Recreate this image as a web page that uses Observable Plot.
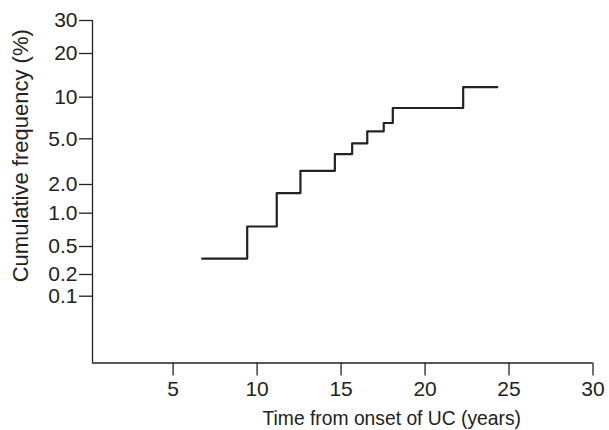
<!DOCTYPE html>
<html><head><meta charset="utf-8">
<script src="https://cdn.jsdelivr.net/npm/d3@7"></script>
<script src="https://cdn.jsdelivr.net/npm/@observablehq/plot@0.6"></script>
<style>body{margin:0;background:#fff} svg{display:block}</style>
</head><body><div id="chart"></div>
<script>
// Step times (years from onset of UC) and cumulative frequency (%) after each step
const stepTimes = [6.73, 9.41, 11.17, 12.58, 14.63, 15.66, 16.56, 17.54, 18.08, 22.27, 24.30];
const cumFreq   = [0.37, 0.8, 1.7, 2.9, 4.0, 4.7, 5.9, 6.9, 8.7, 12.3, 12.3];
const xTicks = [5, 10, 15, 20, 25, 30];
const yTicks = [0.1, 0.2, 0.5, 1, 2, 5, 10, 20, 30];
const yTickLabels = ["0.1", "0.2", "0.5", "1.0", "2.0", "5.0", "10", "20", "30"];
const xLabel = "Time from onset of UC (years)";
const yLabel = "Cumulative frequency (%)";

// probability-paper style axis: piecewise mapping of % onto a linear position
const yMin = 0.01;
const prob = d3.scaleLinear()
  .domain([yMin, ...yTicks])
  .range([0, 66.8, 88.5, 116.5, 149.8, 178.5, 224.2, 265.8, 309.5, 342.5]);

const data = stepTimes.map((t, i) => ({t, f: prob(cumFreq[i])}));
const tickData = yTicks.map((v, i) => ({pos: prob(v), label: yTickLabels[i]}));
const ink = "#222";
const chart = Plot.plot({
  width: 609, height: 430,
  marginLeft: 92, marginRight: 16.5, marginTop: 20, marginBottom: 67.5,
  style: {fontFamily: "'Liberation Sans', Arial, sans-serif", fontSize: "21px", background: "#fff", color: ink},
  x: {domain: [0.2, 30]},
  y: {domain: [prob(yMin), prob(30)]},
  marks: [
    Plot.ruleX([0.2], {y1: prob(yMin), y2: prob(30), stroke: ink, strokeWidth: 1.3}),
    Plot.ruleY([prob(yMin)], {x1: 0.2, x2: 30, stroke: ink, strokeWidth: 1.3}),
    Plot.axisX(xTicks, {tickSize: 13, tickPadding: 5, fontSize: 21, strokeWidth: 1.3, label: null}),
    Plot.axisY(tickData.map(d => d.pos), {tickSize: 13, tickPadding: 2, fontSize: 21, strokeWidth: 1.3, label: null,
      tickFormat: p => tickData.find(d => d.pos === p).label}),
    Plot.line(data, {x: "t", y: "f", curve: "step-after", stroke: ink, strokeWidth: 2.2}),
    Plot.text([xLabel], {text: d => d, frameAnchor: "bottom", lineAnchor: "middle", textAnchor: "middle", dx: 49, dy: 56, fontSize: 19.3}),
    Plot.text([yLabel], {text: d => d, frameAnchor: "left", rotate: -90, textAnchor: "middle", lineAnchor: "middle", dx: -72, dy: -36, fontSize: 22})
  ]
});
document.getElementById("chart").appendChild(chart);
</script>
</body></html>
